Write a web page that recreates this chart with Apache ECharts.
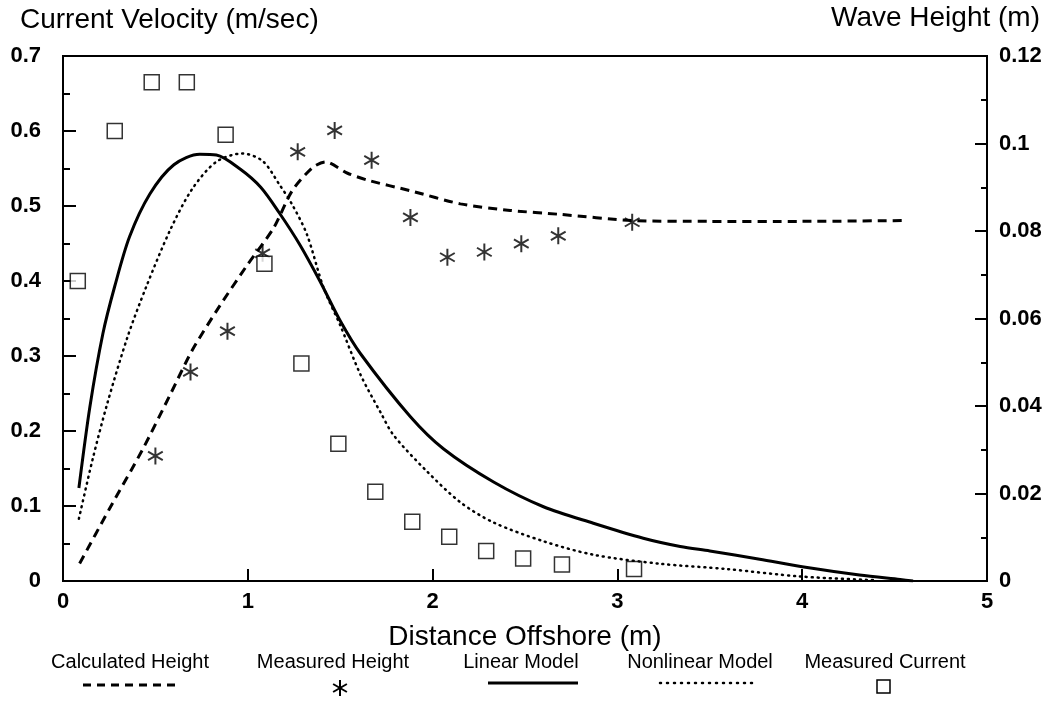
<!DOCTYPE html>
<html><head><meta charset="utf-8">
<script src="https://cdn.jsdelivr.net/npm/echarts@6/dist/echarts.min.js"></script>
<style>html,body{margin:0;padding:0;background:#fff}#c{width:1052px;height:715px}</style>
</head><body><div id="c"></div>
<script>
// ---- data ----
const calcX = [0.09,0.25,0.43,0.58,0.70,0.85,1.00,1.14,1.24,1.35,1.42,1.54,1.65,1.88,2.15,2.42,2.69,3.08,3.5,4.0,4.57];
const calcH = [0.004,0.0164,0.030,0.0426,0.0528,0.063,0.0724,0.0807,0.0892,0.0945,0.0958,0.0932,0.0916,0.0892,0.0862,0.0847,0.0838,0.0824,0.0822,0.0822,0.0824];

const measHX = [0.50,0.69,0.89,1.08,1.27,1.47,1.67,1.88,2.08,2.28,2.48,2.68,3.08];
const measH  = [0.0286,0.0478,0.0571,0.0749,0.0981,0.103,0.0962,0.0831,0.074,0.0752,0.0771,0.0789,0.082];

const linX = [0.086,0.146,0.216,0.28,0.36,0.47,0.60,0.74,0.83,0.96,1.07,1.17,1.28,1.39,1.50,1.61,1.88,2.06,2.33,2.60,2.87,3.14,3.34,3.50,3.77,4.00,4.31,4.53,4.6];
const linV = [0.124,0.233,0.33,0.393,0.459,0.516,0.555,0.569,0.568,0.549,0.525,0.491,0.449,0.400,0.347,0.303,0.219,0.176,0.132,0.099,0.077,0.057,0.046,0.040,0.029,0.019,0.008,0.002,0];

const nonX = [0.086,0.16,0.24,0.35,0.45,0.58,0.70,0.83,0.97,1.08,1.17,1.24,1.32,1.41,1.50,1.61,1.72,1.79,1.97,2.15,2.33,2.60,2.87,3.23,3.59,3.99,4.40];
const nonV = [0.083,0.162,0.237,0.326,0.392,0.468,0.523,0.559,0.570,0.560,0.529,0.502,0.462,0.391,0.341,0.275,0.224,0.194,0.146,0.105,0.078,0.053,0.035,0.023,0.016,0.006,0.001];

const curX = [0.08,0.28,0.48,0.67,0.88,1.09,1.29,1.49,1.69,1.89,2.09,2.29,2.49,2.70,3.09];
const curV = [0.40,0.60,0.665,0.665,0.595,0.423,0.29,0.183,0.119,0.079,0.059,0.040,0.030,0.022,0.016];

const seriesNames = ['Calculated Height','Measured Height','Linear Model','Nonlinear Model','Measured Current'];
const xTitle = 'Distance Offshore (m)';
const yLeftTitle = 'Current Velocity (m/sec)';
const yRightTitle = 'Wave Height (m)';

// ---- chart ----
const FONT = '"Liberation Sans", Arial, Helvetica, sans-serif';
const zip = (a,b) => a.map((v,i)=>[v,b[i]]);
const ASTER = 'path://M10,0L10,20M1.34,5L18.66,15M1.34,15L18.66,5';

const chart = echarts.init(document.getElementById('c'), null, {renderer:'canvas'});
const tickStyle = {color:'#000', width:2};
const legendCenters = [130, 333, 521, 700, 885];
const legendTextY = 662, legendSymY = 685;

const graphics = [];
seriesNames.forEach((n,i)=>{
  graphics.push({type:'text',
    style:{text:n, x:legendCenters[i], y:legendTextY, textAlign:'center', textVerticalAlign:'middle', font:'20px '+FONT, fill:'#000'}});
});
graphics.push({type:'line', shape:{x1:83,y1:legendSymY,x2:180,y2:legendSymY}, style:{stroke:'#000', lineWidth:3, lineDash:[8,6]}});
// asterisk glyph for legend
const ax = 340, ay = legendSymY + 3;
[[0,-8,0,8],[-6.9,-4,6.9,4],[-6.9,4,6.9,-4]].forEach(s=>{
  graphics.push({type:'line', shape:{x1:ax+s[0],y1:ay+s[1],x2:ax+s[2],y2:ay+s[3]}, style:{stroke:'#000', lineWidth:2}});
});
graphics.push({type:'line', shape:{x1:488,y1:legendSymY-2,x2:578,y2:legendSymY-2}, style:{stroke:'#000', lineWidth:3}});
graphics.push({type:'line', shape:{x1:660,y1:legendSymY-2,x2:756,y2:legendSymY-2}, style:{stroke:'#000', lineWidth:2.5, lineDash:[1,6], lineCap:'round'}});
graphics.push({type:'rect', shape:{x:877,y:legendSymY-5,width:13,height:13}, style:{stroke:'#000', lineWidth:1.5, fill:'#fff'}});

chart.setOption({
  backgroundColor:'#fff',
  animation:false,
  title:[
    {text:yLeftTitle, left:20, top:6, padding:0, textStyle:{fontFamily:FONT, fontSize:28, fontWeight:'normal', color:'#000'}},
    {text:yRightTitle, right:12, top:4, padding:0, textStyle:{fontFamily:FONT, fontSize:28, fontWeight:'normal', color:'#000'}}
  ],
  grid:{left:63, right:65, top:56, height:525, show:true, borderColor:'#000', borderWidth:2, backgroundColor:'transparent'},
  xAxis:{type:'value', min:0, max:5, interval:1,
    name:xTitle, nameLocation:'middle', nameGap:42,
    nameTextStyle:{fontFamily:FONT, fontSize:28, color:'#000'},
    axisLine:{lineStyle:{color:'#000', width:2}},
    axisTick:{inside:true, length:12, lineStyle:tickStyle},
    axisLabel:{fontFamily:FONT, fontSize:22, fontWeight:'bold', color:'#000', margin:10},
    splitLine:{show:false}},
  yAxis:[
    {type:'value', min:0, max:0.7, interval:0.1, position:'left',
      axisLine:{show:true, lineStyle:{color:'#000', width:2}},
      axisTick:{show:true, inside:true, length:13, lineStyle:tickStyle},
      minorTick:{show:true, splitNumber:2, length:7, lineStyle:tickStyle},
      axisLabel:{fontFamily:FONT, fontSize:22, fontWeight:'bold', color:'#000', margin:22},
      splitLine:{show:false}},
    {type:'value', min:0, max:0.12, interval:0.02, position:'right',
      axisLine:{show:true, lineStyle:{color:'#000', width:2}},
      axisTick:{show:true, inside:true, length:12, lineStyle:tickStyle},
      minorTick:{show:true, splitNumber:2, length:6, lineStyle:tickStyle},
      axisLabel:{fontFamily:FONT, fontSize:22, fontWeight:'bold', color:'#000', margin:12},
      splitLine:{show:false}}
  ],
  series:[
    {name:seriesNames[0], type:'line', yAxisIndex:1, data:zip(calcX,calcH), smooth:0.25, showSymbol:false,
      lineStyle:{color:'#000', width:3, type:[9,6]}},
    {name:seriesNames[2], type:'line', yAxisIndex:0, data:zip(linX,linV), smooth:0.3, showSymbol:false,
      lineStyle:{color:'#000', width:3}},
    {name:seriesNames[3], type:'line', yAxisIndex:0, data:zip(nonX,nonV), smooth:0.3, showSymbol:false,
      lineStyle:{color:'#000', width:2.5, type:[1,5], cap:'round'}},
    {name:seriesNames[1], type:'scatter', yAxisIndex:1, data:zip(measHX,measH), symbol:ASTER, symbolSize:17, symbolKeepAspect:true,
      itemStyle:{color:'#000', borderColor:'#000', borderWidth:2}},
    {name:seriesNames[4], type:'scatter', yAxisIndex:0, data:zip(curX,curV), symbol:'rect', symbolSize:15,
      itemStyle:{color:'#fff', borderColor:'#000', borderWidth:1.5}}
  ],
  graphic:graphics
});
</script>
</body></html>
